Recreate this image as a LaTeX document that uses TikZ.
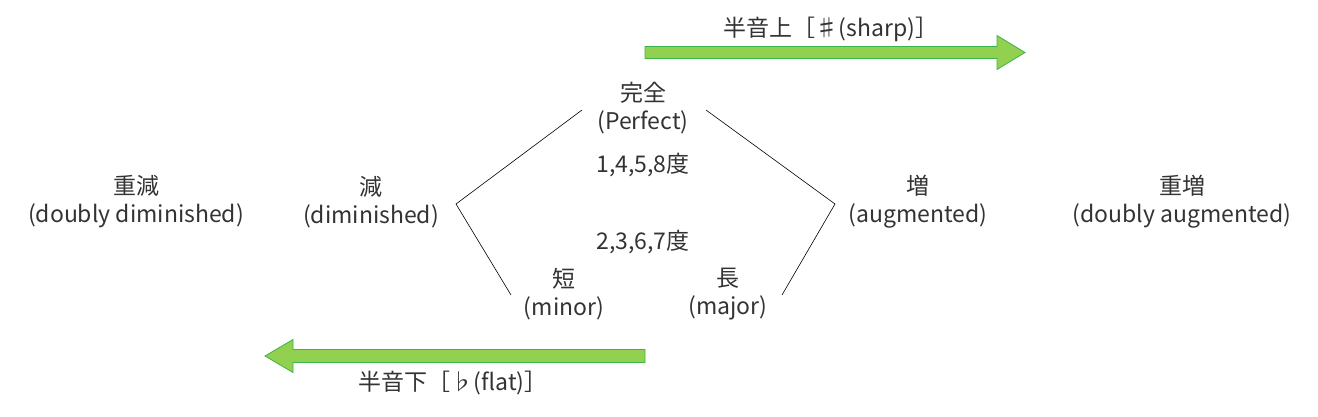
\documentclass[tikz,border=0pt]{standalone}
\usepackage{fontspec}
\setmainfont{Noto Sans CJK JP}
\begin{document}
\begin{tikzpicture}[x=1pt,y=-1pt,
  lbl/.style={font=\fontsize{23}{28}\selectfont, text=black!80, align=center, inner sep=0pt},
  arrowfill/.style={fill={rgb,255:red,146;green,208;blue,80}, draw={rgb,255:red,60;green,180;blue,75}, line width=0.8pt},
  edge/.style={draw=black, line width=0.6pt}]
\useasboundingbox (0,0) rectangle (1318,417);
% arrows
\path[arrowfill] (645,46.5) -- (997,46.5) -- (997,35.5) -- (1025,52.5) -- (997,69.5) -- (997,58.5) -- (645,58.5) -- cycle;
\path[arrowfill] (645,349.5) -- (293,349.5) -- (293,339.5) -- (265,356) -- (293,372.5) -- (293,362.5) -- (645,362.5) -- cycle;
\node[lbl] (up) at (831,29) {半音上［♯(sharp)］};
\node[lbl] (down) at (453,383) {半音下［♭(flat)］};
% labels
\node[lbl] (perf) at (643,108) {完全\\(Perfect)};
\node[lbl] (p1458) at (643,165) {1,4,5,8度};
\node[lbl] (p2367) at (643,242) {2,3,6,7度};
\node[lbl] (minor) at (564,294) {短\\(minor)};
\node[lbl] (major) at (728,294) {長\\(major)};
\node[lbl] (dim) at (371,202) {減\\(diminished)};
\node[lbl] (aug) at (918,202) {増\\(augmented)};
\node[lbl] (ddim) at (136,202) {重減\\(doubly diminished)};
\node[lbl] (daug) at (1182,202) {重増\\(doubly augmented)};
% connector ends
\coordinate (lt) at (582,110);
\coordinate (la) at (456,204);
\coordinate (lb) at (511,295);
\coordinate (rt) at (706,110);
\coordinate (ra) at (835,204);
\coordinate (rb) at (782,295);
\draw[edge] (lt) -- (la) -- (lb);
\draw[edge] (rt) -- (ra) -- (rb);
\end{tikzpicture}
\end{document}
